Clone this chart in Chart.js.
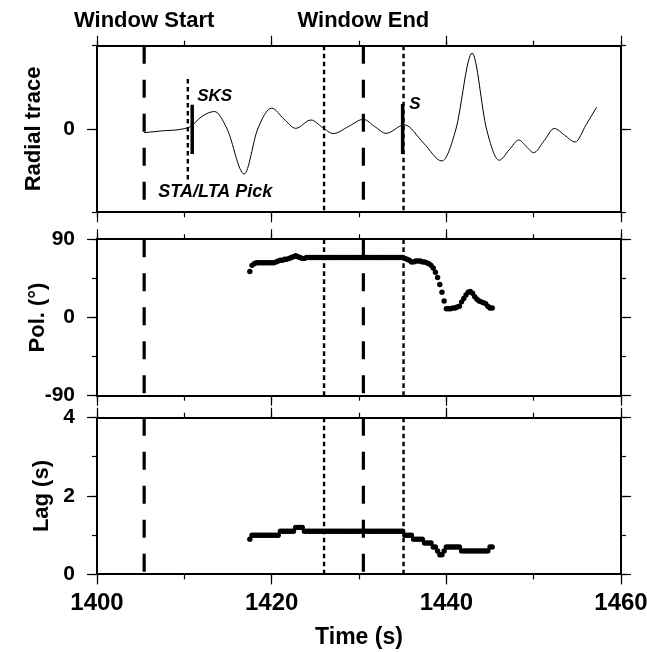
<!DOCTYPE html>
<html><head><meta charset="utf-8">
<script src="https://cdn.jsdelivr.net/npm/chart.js@4/dist/chart.umd.min.js"></script>
<style>
html,body{margin:0;padding:0;background:#fff;}
#wrap{position:relative;width:647px;height:652px;overflow:hidden;background:#fff;}
canvas{position:absolute;left:0;}
</style></head><body>
<div id="wrap">
<canvas id="c1" width="647" height="226" style="top:0px"></canvas>
<canvas id="c2" width="647" height="180" style="top:226px"></canvas>
<canvas id="c3" width="647" height="246" style="top:406px"></canvas>
</div>
<script>
// ---------------- data ----------------
const traceTime = [1405.4,1407.5,1409.5,1410.7,1412.0,1413.45,1414.9,1416.85,1418.4,1420.0,1421.4,1422.75,1424.5,1425.8,1427.05,1428.8,1430.5,1431.8,1433.1,1435.2,1437.4,1439.5,1441.1,1442.95,1444.6,1446.05,1447.2,1448.3,1449.15,1450.0,1451.2,1452.35,1453.55,1454.75,1456.0,1457.2];
const traceAmp  = [-0.044,-0.022,-0.005,0.03,0.15,0.21,0.0,-0.54,0.0,0.25,0.12,0.008,0.108,0.02,-0.055,0.03,0.116,0.03,-0.052,0.05,-0.17,-0.384,0.0,0.91,0.0,-0.375,-0.25,-0.132,-0.21,-0.284,-0.14,0.006,-0.075,-0.156,0.05,0.26];

const splitTime = [1417.5,1417.75,1418,1418.25,1418.5,1418.75,1419,1419.25,1419.5,1419.75,1420,1420.25,1420.5,1420.75,1421,1421.25,1421.5,1421.75,1422,1422.25,1422.5,1422.75,1423,1423.25,1423.5,1423.75,1424,
1424.25,1424.5,1424.75,1425,1425.25,1425.5,1425.75,1426,1426.25,1426.5,1426.75,1427,1427.25,1427.5,1427.75,1428,1428.25,1428.5,1428.75,1429,1429.25,1429.5,1429.75,1430,1430.25,1430.5,1430.75,1431,1431.25,1431.5,1431.75,1432,1432.25,1432.5,1432.75,1433,1433.25,1433.5,1433.75,1434,1434.25,1434.5,1434.75,1435,
1435.25,1435.5,1435.75,1436,1436.25,1436.5,1436.75,1437,1437.25,1437.5,1437.75,1438,1438.25,1438.5,1438.75,1439,1439.25,1439.5,1439.75,1440,1440.25,1440.5,1440.75,1441,1441.25,1441.5,1441.75,1442,1442.25,1442.5,1442.75,1443,1443.25,1443.5,1443.75,1444,1444.25,1444.5,1444.75,1445,1445.25];
const polValues = [53,60,62,63,63,63,63,63,63,63,63,63,64,65,66,66,67,67,68,69,70,71,70,69,68,68,69,
69,69,69,69,69,69,69,69,69,69,69,69,69,69,69,69,69,69,69,69,69,69,69,69,69,69,69,69,69,69,69,69,69,69,69,69,69,69,69,69,69,69,69,69,
68,67,66,64,64,65,65,65,64,64,63,62,60,57,52,46,38,29,19,10,10,10,11,11,12,13,18,22,26,29,30,28,24,21,19,18,17,16,13,11,11];
const lagValues = [0.9,1.0,1.0,1.0,1.0,1.0,1.0,1.0,1.0,1.0,1.0,1.0,1.0,1.0,1.1,1.1,1.1,1.1,1.1,1.1,1.1,1.2,1.2,1.2,1.2,
1.1,1.1,1.1,1.1,1.1,1.1,1.1,1.1,1.1,1.1,1.1,1.1,1.1,1.1,1.1,1.1,1.1,1.1,1.1,1.1,1.1,1.1,1.1,1.1,1.1,1.1,1.1,1.1,1.1,1.1,1.1,1.1,1.1,1.1,1.1,1.1,1.1,1.1,1.1,1.1,1.1,1.1,1.1,1.1,1.1,1.1,
1.0,1.0,1.0,1.0,0.9,0.9,0.9,0.9,0.9,0.8,0.8,0.8,0.8,0.7,0.7,0.6,0.5,0.5,0.6,0.7,0.7,0.7,0.7,0.7,0.7,0.7,0.6,0.6,0.6,0.6,0.6,0.6,0.6,0.6,0.6,0.6,0.6,0.6,0.6,0.7,0.7];

const timeMajorTicks = [1400,1420,1440,1460];
const timeMinorTicks = [1400,1410,1420,1430,1440,1450,1460];
const radialMajorTicks = [0];
const radialMinorTicks = [-1,0,1];
const polMajorTicks = [-90,0,90];
const polMinorTicks = [-90,-45,0,45,90];
const lagMajorTicks = [0,2,4];
const lagMinorTicks = [0,1,2,3,4];

const windowStart = 1405.4;
const windowEnd = 1430.5;
const windowBounds = [1426.0, 1435.1];
const staLtaPick = 1410.4;
const sksPick = 1410.9;
const sPick = 1435.0;

const headerLabels = ['Window Start','Window End'];
const phaseLabels = ['SKS','S','STA/LTA Pick'];
const yTitles = ['Radial trace','Pol. (\u00B0)','Lag (s)'];
const xTitle = 'Time (s)';

// ---------------- helpers ----------------
const FONT = '"Liberation Sans", Arial, Helvetica, sans-serif';
Chart.defaults.font.family = FONT;
Chart.defaults.color = '#000';

function pts(xs, ys){ return xs.map((x,i)=>({x:x, y:ys[i]})); }
function vline(x, y0, y1, width, dash){
  return {data:[{x:x,y:y0},{x:x,y:y1}], borderColor:'#000', borderWidth:width, borderDash:dash||[],
          pointRadius:0, fill:false, tension:0, borderCapStyle:'butt'};
}
function axis(pos, min, max, tickVals, tickLen, size, weight, opts){
  opts = opts || {};
  return {
    type:'linear', position:pos, min:min, max:max, weight:weight,
    grid:{display:true, drawOnChartArea:false, drawTicks:true, tickLength:tickLen, tickColor:'#000', tickWidth:1.2},
    border:{display:true, color:'#000', width:2},
    ticks: Object.assign({display:false, autoSkip:false, maxRotation:0, minRotation:0, color:'#000',
             callback:(v)=>String(v)}, opts.ticks||{}),
    title: opts.title || {display:false},
    afterBuildTicks:(s)=>{ s.ticks = tickVals.map(v=>({value:v})); },
    afterFit:(s)=>{ if (s.isHorizontal()) s.height = size; else s.width = size;
                    s.paddingTop=0; s.paddingBottom=0; s.paddingLeft=0; s.paddingRight=0; }
  };
}
const L = 97, R = 621, W = 647;
function makePanel(id, g, ymin, ymax, yMaj, yMin, yTitle, titlePad, datasets, showX, plugins){
  const xTickOpts = showX ? {display:true, padding:5, font:{size:24, weight:'bold', lineHeight:1.2}} : {};
  const xTitleOpts = showX ? {display:true, text:xTitle, color:'#000', font:{size:23, weight:'bold', lineHeight:1}, padding:{top:0,bottom:2.5}} : {display:false};
  const scales = {
    x:   axis('bottom', 1400, 1460, timeMajorTicks, 10, g.h - g.bottom, 1, {ticks:xTickOpts, title:xTitleOpts}),
    xm:  axis('bottom', 1400, 1460, timeMinorTicks, 5, 0, 0),
    xt:  axis('top', 1400, 1460, timeMajorTicks, 10, g.top, 1),
    xtm: axis('top', 1400, 1460, timeMinorTicks, 5, 0, 0),
    y:   axis('left', ymin, ymax, yMaj, 10, L, 1, {ticks:{display:true, padding:12, font:{size:21, weight:'bold', lineHeight:1.2}},
          title:{display:true, text:yTitle, color:'#000', font:{size:22, weight:'bold', lineHeight:1}, padding:{top:titlePad, bottom:0}}}),
    ym:  axis('left', ymin, ymax, yMin, 5, 0, 0),
    yr:  axis('right', ymin, ymax, yMaj, 10, W - R, 1),
    yrm: axis('right', ymin, ymax, yMin, 5, 0, 0)
  };
  return new Chart(document.getElementById(id), {
    type:'line',
    data:{datasets:datasets},
    options:{
      responsive:false, animation:false, events:[],
      layout:{padding:0},
      plugins:{legend:{display:false}, tooltip:{enabled:false}, title:{display:false}},
      scales:scales
    },
    plugins: plugins||[]
  });
}

const DASH = [18,16], DOT = [4.6,3.4];
function windowLines(ymin, ymax){
  return [
    vline(windowStart, ymax, ymin, 3.2, DASH),
    vline(windowEnd, ymax, ymin, 3.2, DASH),
    vline(windowBounds[0], ymax, ymin, 2.4, DOT),
    vline(windowBounds[1], ymax, ymin, 2.4, DOT)
  ];
}

// ---------------- panel 1 ----------------
const annot = {
  id:'annot',
  afterDatasetsDraw(chart){
    const {ctx, chartArea} = chart;
    const x = chart.scales.x, y = chart.scales.y;
    ctx.save();
    ctx.fillStyle = '#000';
    ctx.textBaseline = 'alphabetic';
    ctx.font = 'bold 22px ' + FONT;
    ctx.textAlign = 'center';
    ctx.fillText(headerLabels[0], x.getPixelForValue(windowStart), chartArea.top - 18.4);
    ctx.fillText(headerLabels[1], x.getPixelForValue(windowEnd), chartArea.top - 18.4);
    ctx.textAlign = 'left';
    ctx.font = 'italic bold 17px ' + FONT;
    ctx.fillText(phaseLabels[0], x.getPixelForValue(sksPick) + 5, y.getPixelForValue(0.34));
    ctx.fillText(phaseLabels[1], x.getPixelForValue(sPick) + 6.5, y.getPixelForValue(0.245));
    ctx.font = 'italic bold 18px ' + FONT;
    ctx.fillText(phaseLabels[2], x.getPixelForValue(staLtaPick) - 29.5, y.getPixelForValue(-0.815));
    ctx.restore();
  }
};
const ds1 = [
  {data:pts(traceTime, traceAmp), borderColor:'#000', borderWidth:1, pointRadius:0, fill:false, cubicInterpolationMode:'monotone'},
  ...windowLines(-1, 1),
  vline(staLtaPick, 0.6, -0.61, 2.4, DOT),
  vline(sksPick, 0.29, -0.3, 3.5),
  vline(sPick, 0.3, -0.3, 3.5)
];
makePanel('c1', {top:45.7, bottom:212.3, h:226}, -1, 1, radialMajorTicks, radialMinorTicks, yTitles[0], 23, ds1, false, [annot]);

// ---------------- panel 2 ----------------
const dotStyle = {showLine:false, pointRadius:2.7, pointBackgroundColor:'#000', pointBorderWidth:0, borderColor:'#000'};
const ds2 = [
  ...windowLines(-90, 90),
  Object.assign({data:pts(splitTime, polValues)}, dotStyle)
];
makePanel('c2', {top:13.3, bottom:169.7, h:180}, -90, 90, polMajorTicks, polMinorTicks, yTitles[1], 27, ds2, false);

// ---------------- panel 3 ----------------
const ds3 = [
  ...windowLines(0, 4),
  Object.assign({data:pts(splitTime, lagValues)}, dotStyle)
];
makePanel('c3', {top:11.7, bottom:168.4, h:246}, 0, 4, lagMajorTicks, lagMinorTicks, yTitles[2], 31, ds3, true);
</script>
</body></html>
